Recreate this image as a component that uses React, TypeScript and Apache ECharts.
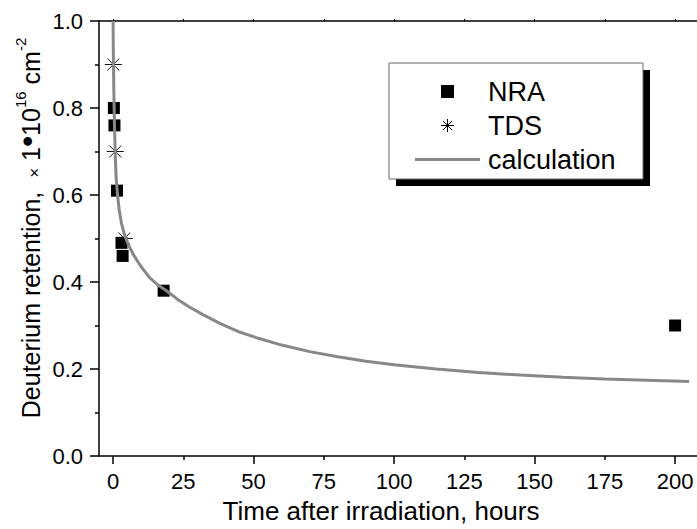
import React, { useEffect, useRef } from 'react';
import * as echarts from 'echarts';

const xTickLabels = [0, 25, 50, 75, 100, 125, 150, 175, 200];
const xMajorTicks = [0, 50, 100, 150, 200];
const xMinorTicks = [25, 75, 125, 175];

const nraTime = [0.3, 0.5, 1.4, 3.0, 3.4, 18, 200];
const nraRetention = [0.80, 0.76, 0.61, 0.49, 0.46, 0.38, 0.30];

const tdsTime = [0.1, 0.8, 4.0];
const tdsRetention = [0.90, 0.70, 0.50];

const calcTime = [0, 0.1, 0.25, 0.5, 0.8, 1.1, 1.6, 2.2, 3, 4, 5.5, 7.5, 10, 13, 16, 19, 23, 27, 32, 38, 45, 52, 60, 70, 80, 90, 100, 115, 130, 145, 160, 175, 190, 205];
const calcRetention = [1.0, 0.93, 0.85, 0.76, 0.69, 0.64, 0.60, 0.565, 0.535, 0.51, 0.485, 0.46, 0.435, 0.41, 0.393, 0.38, 0.36, 0.343, 0.325, 0.305, 0.285, 0.27, 0.255, 0.24, 0.228, 0.218, 0.21, 0.2, 0.192, 0.186, 0.181, 0.177, 0.174, 0.171];

const FONT = 'Liberation Sans, Arial, sans-serif';
const STAR = 'path://M50 0L50 100M0 50L100 50M15 15L85 85M85 15L15 85';
const SQUARE = 'path://M0 0H10V10H0Z';
const LINE_ICON = 'path://M0 0H65V3H0Z';

export default function App() {
  const ref = useRef<HTMLDivElement>(null);
  useEffect(() => {
    if (!ref.current) return;
    const chart = echarts.init(ref.current, undefined, { renderer: 'svg' });
    const axisLineStyle = { color: '#000', width: 1.5 };
    chart.setOption({
      animation: false,
      backgroundColor: '#fff',
      grid: { left: 99, right: 0, top: 21, bottom: 67, containLabel: false },
      xAxis: [
        {
          type: 'value', min: -5, max: 207.8, position: 'bottom',
          axisLine: { show: true, onZero: false, lineStyle: axisLineStyle },
          axisTick: { show: true, customValues: xMajorTicks, length: 8, inside: false, lineStyle: { color: '#000', width: 1.5 } },
          axisLabel: { customValues: xTickLabels, fontSize: 22, fontFamily: FONT, color: '#000', margin: 14 },
          splitLine: { show: false },
          name: 'Time after irradiation, hours', nameLocation: 'middle', nameGap: 42,
          nameTextStyle: { fontSize: 26, fontFamily: FONT, color: '#000', lineHeight: 26, padding: [0, 34, 0, 0] },
        },
        {
          type: 'value', min: -5, max: 207.8, position: 'bottom',
          axisLine: { show: false },
          axisTick: { show: true, customValues: xMinorTicks, length: 4, lineStyle: { color: '#000', width: 1.5 } },
          axisLabel: { show: false },
          splitLine: { show: false },
        },
        {
          type: 'value', min: -5, max: 207.8, position: 'top',
          axisLine: { show: true, onZero: false, lineStyle: axisLineStyle },
          axisTick: { show: true, customValues: xTickLabels, length: 2, lineStyle: { color: '#000', width: 1 } },
          axisLabel: { show: false },
          splitLine: { show: false },
        },
      ],
      yAxis: {
        type: 'value', min: 0, max: 1, interval: 0.2,
        axisLine: { show: true, onZero: false, lineStyle: axisLineStyle },
        axisTick: { show: true, length: 9, lineStyle: { color: '#000', width: 1.5 } },
        minorTick: { show: true, splitNumber: 2, length: 4, lineStyle: { color: '#000', width: 1.5 } },
        axisLabel: { fontSize: 22, fontFamily: FONT, color: '#000', margin: 16, formatter: (v: number) => v.toFixed(1) },
        splitLine: { show: false },
      },
      legend: {
        orient: 'vertical', left: 410, top: 73, itemWidth: 65, itemHeight: 13, itemGap: 7,
        z: 10,
        textStyle: { fontSize: 27, fontFamily: FONT, color: '#000', lineHeight: 27, padding: [0, 0, 0, 3] },
        data: [
          { name: 'NRA', icon: SQUARE, itemStyle: { color: '#000', opacity: 1 } },
          { name: 'TDS', icon: STAR, itemStyle: { color: '#000', borderWidth: 1, borderColor: '#000', opacity: 1 } },
          { name: 'calculation', icon: LINE_ICON, itemStyle: { color: '#888', opacity: 1 } },
        ],
      },
      graphic: [
        { type: 'rect', z: 1, shape: { x: 396, y: 70, width: 254, height: 116 }, style: { fill: '#000' } },
        { type: 'rect', z: 2, shape: { x: 389, y: 63, width: 254, height: 116 }, style: { fill: '#fff', stroke: '#666', lineWidth: 1 } },
        {
          type: 'text', x: 28, y: 228, rotation: Math.PI / 2, z: 3,
          style: {
            text: '{a|Deuterium retention,  }{x|×}{a| 1}{b|•}{a|10}{s|16}{a| cm}{s|-2}',
            align: 'center', verticalAlign: 'middle',
            rich: {
              a: { fontSize: 25, fontFamily: FONT, fill: '#000', lineHeight: 30, verticalAlign: 'bottom' },
              b: { fontSize: 32, fontFamily: FONT, fill: '#000', lineHeight: 30, verticalAlign: 'bottom' },
              x: { fontSize: 17, fontFamily: FONT, fill: '#000', lineHeight: 30, verticalAlign: 'bottom' },
              s: { fontSize: 15, fontFamily: FONT, fill: '#000', lineHeight: 30, verticalAlign: 'top' },
            },
          },
        },
      ],
      series: [
        {
          name: 'NRA', type: 'scatter', symbol: 'rect', symbolSize: 12, z: 2,
          itemStyle: { color: '#000', opacity: 1 },
          data: nraTime.map((t, i) => [t, nraRetention[i]]),
        },
        {
          name: 'TDS', type: 'scatter', symbol: STAR, symbolSize: 17, z: 2,
          itemStyle: { color: '#000', borderColor: '#111', borderWidth: 1, opacity: 1 },
          data: tdsTime.map((t, i) => [t, tdsRetention[i]]),
        },
        {
          name: 'calculation', type: 'line', symbol: 'none', showSymbol: false, z: 3,
          smooth: false,
          lineStyle: { color: '#888', width: 3 },
          itemStyle: { color: '#888' },
          data: calcTime.map((t, i) => [t, calcRetention[i]]),
        },
      ],
    });
    return () => chart.dispose();
  }, []);
  return <div ref={ref} style={{ width: 697, height: 529, position: 'absolute', left: 0, top: 0 }} />;
}
